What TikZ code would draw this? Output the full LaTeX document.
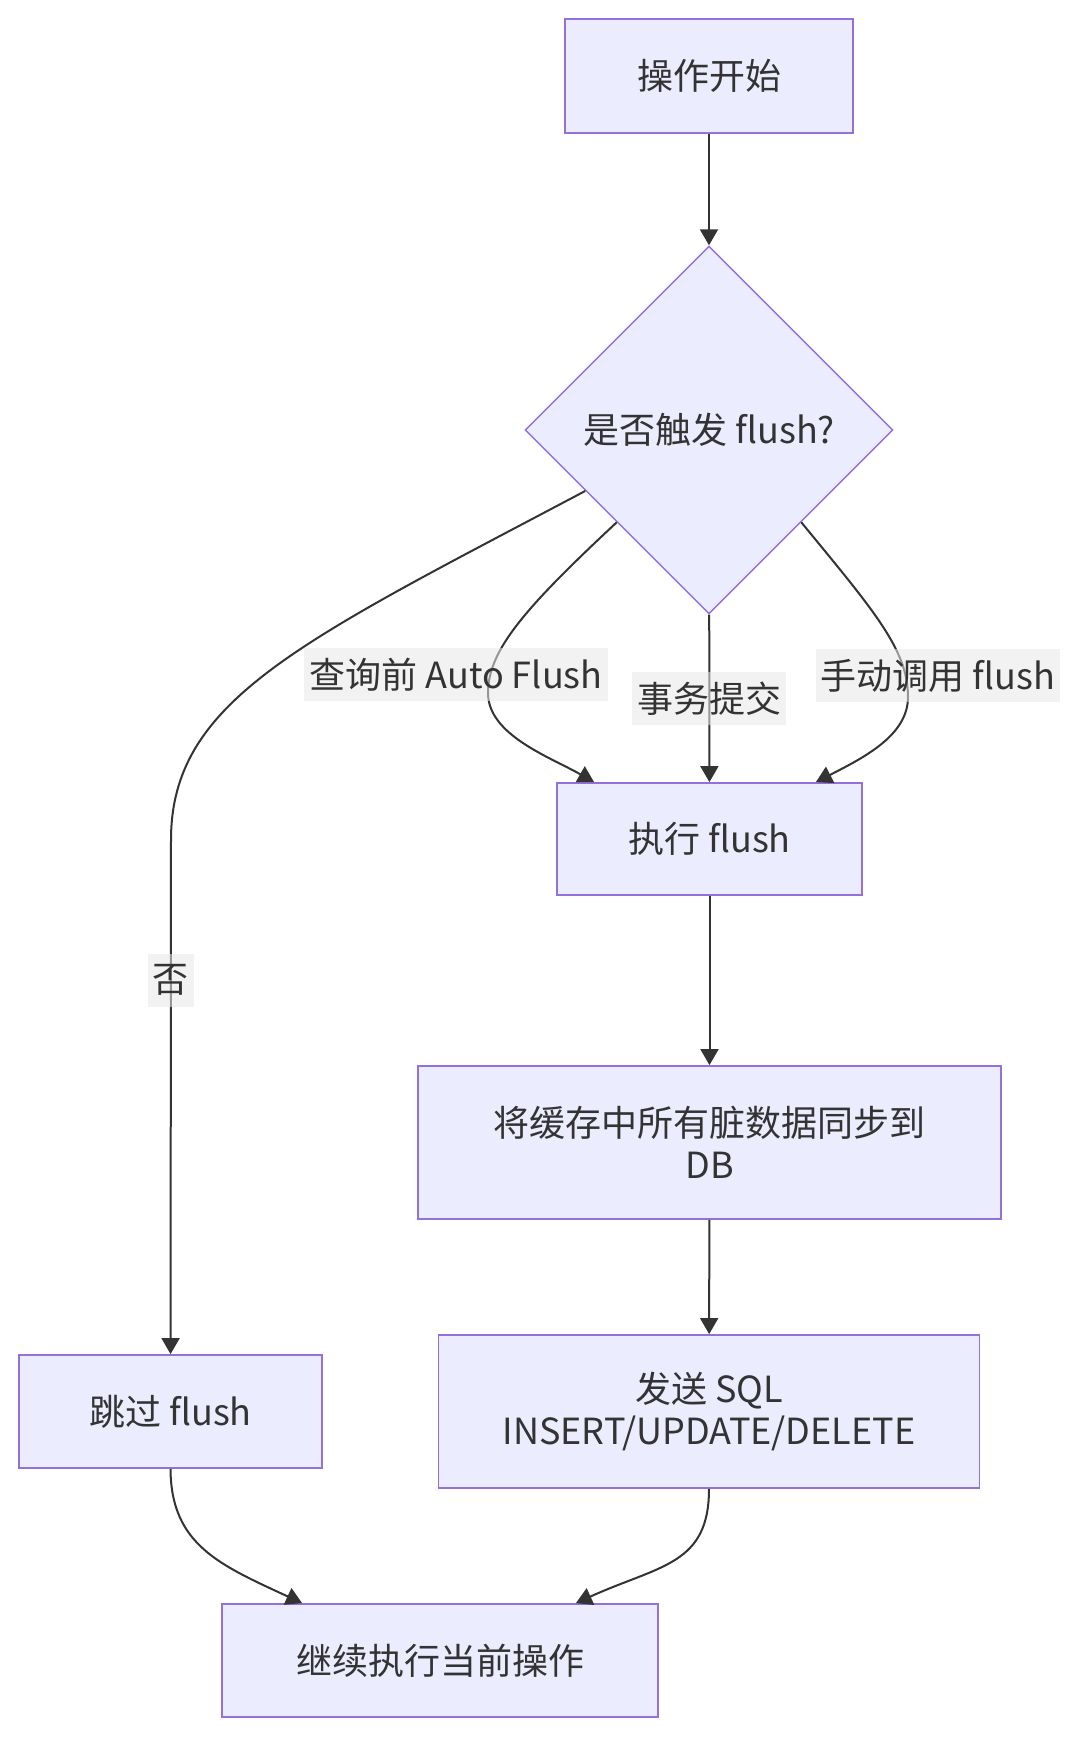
\documentclass[tikz,border=0pt]{standalone}
\usepackage{fontspec}
\setmainfont{Noto Sans CJK SC}
\usepackage{xcolor}
\usepackage{tikz}
\usetikzlibrary{arrows.meta,calc,shapes.geometric}
\definecolor{flowfill}{HTML}{ECECFF}
\definecolor{flowborder}{HTML}{9370DB}
\definecolor{flowink}{HTML}{333333}
\definecolor{flowlabel}{HTML}{E8E8E8}

\begin{document}
\begin{tikzpicture}[
    x=0.5pt, y=-0.5pt,
    every node/.style={font=\fontsize{18}{21}\selectfont, text=flowink},
    box/.style={rectangle, draw=flowborder, fill=flowfill, line width=0.9pt, align=center, inner sep=0pt},
    decision/.style={diamond, aspect=1, draw=flowborder, fill=flowfill, line width=0.7pt, inner sep=0pt, minimum width=184pt, minimum height=184pt},
    edgelabel/.style={fill=flowlabel, fill opacity=0.55, text opacity=1, inner xsep=2.5pt, inner ysep=0pt, minimum height=26.5pt},
    flow/.style={draw=flowink, line width=1pt, -{Triangle[length=8pt, width=9pt]}}
]
\useasboundingbox (0,0) rectangle (1080,1737);

\node[box, minimum width=144pt, minimum height=57pt] (start) at (709,76) {操作开始};
\node[decision] (decide) at (709,430) {是否触发 flush?};
\node[box, minimum width=152.5pt, minimum height=56pt] (exec) at (709.5,839) {执行 flush};
\node[box, minimum width=291.5pt, minimum height=76.5pt] (sync) at (709.5,1142.5) {将缓存中所有脏数据同步到\\DB};
\node[box, minimum width=270.5pt, minimum height=76.5pt] (send) at (709,1411.5) {发送 SQL\\INSERT/UPDATE/DELETE};
\node[box, minimum width=151.5pt, minimum height=56.5pt] (skip) at (170.5,1411.5) {跳过 flush};
\node[box, minimum width=218pt, minimum height=56.5pt] (cont) at (440,1660.5) {继续执行当前操作};

\coordinate (noout) at ($(decide.west)!0.33!(decide.south)$);
\coordinate (autoin) at ([xshift=19pt]exec.north west);
\coordinate (manin) at ([xshift=-23.5pt]exec.north east);
\coordinate (skipin) at ([xshift=40.5pt]cont.north west);
\coordinate (sendin) at ([xshift=-41.5pt]cont.north east);

\draw[flow] (start) -- (decide);
\draw[flow] (noout) .. controls (300,642) and (171,700) .. (171,840) -- (skip);
\draw[flow] (decide.south west) .. controls (525,608) and (488,650) .. (488,693)
    .. controls (488,735) and (550,757) .. (autoin);
\draw[flow] (decide) -- (exec);
\draw[flow] (decide.south east) .. controls (875,612) and (908,650) .. (908,697)
    .. controls (908,735) and (865,757) .. (manin);
\draw[flow] (exec) -- (sync);
\draw[flow] (sync) -- (send);
\draw[flow] (skip.south) .. controls (171,1545) and (220,1565) .. (skipin);
\draw[flow] (send.south) .. controls (709,1565) and (660,1565) .. (sendin);

\node[edgelabel] (lblno) at (170.5,980) {否};
\node[edgelabel] (lblauto) at (456,674.5) {查询前 Auto Flush};
\node[edgelabel] (lblcommit) at (709,698.5) {事务提交};
\node[edgelabel] (lblmanual) at (938,675.5) {手动调用 flush};
\end{tikzpicture}
\end{document}
